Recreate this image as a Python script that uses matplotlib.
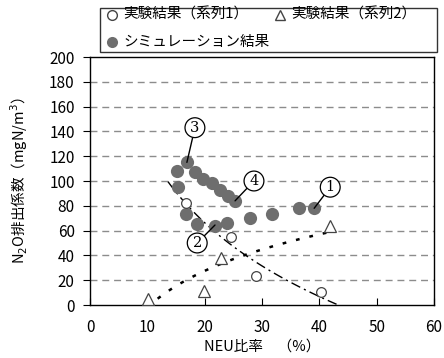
import numpy as np
import matplotlib
matplotlib.use("Agg")
import matplotlib.pyplot as plt
from matplotlib.lines import Line2D
from matplotlib.patches import Rectangle

plt.rcParams['font.family'] = ['Noto Sans CJK JP', 'DejaVu Sans']

# simulation results
sim_x = [15.2, 16.9, 18.3, 19.7, 21.3, 22.7, 24.1, 25.3, 15.4, 16.8, 18.7, 21.8, 23.9, 27.9, 31.8, 36.5, 39.1]
sim_y = [108, 115, 107, 102, 98, 93, 88, 84, 95, 73, 65, 64, 66, 70, 73, 78, 78]
# experiment series 1 (open circles)
s1_x = [16.8, 24.6, 29.0, 40.3]
s1_y = [82, 55, 23, 10.5]
# experiment series 2 (triangles)
s2_x = [10.1, 19.9, 22.9, 41.9]
s2_y = [5, 11, 38, 64]

# circled case labels: text, label position, point
case_labels = ['1', '2', '3', '4']
case_pos = [(41.9, 95), (18.7, 50), (18.3, 143), (28.6, 100)]
case_pt = [(39.1, 78), (21.8, 64.5), (16.9, 115), (25.3, 84)]

W, H = 444, 358
fig = plt.figure(figsize=(W / 100, H / 100), dpi=100)
ax = fig.add_axes([90 / W, 1 - 305 / H, 344 / W, 248 / H])

ax.set_xlim(0, 60)
ax.set_ylim(0, 200)
ax.set_xticks(np.arange(0, 61, 10))
ax.set_yticks(np.arange(0, 201, 20))
for g in range(20, 200, 20):
    ax.axhline(g, color='#8c8c8c', lw=1.0, ls=(0, (5, 3.5)), zorder=0)

# log trend lines fitted to the experiment series
b1, a1 = np.polyfit(np.log(s1_x), s1_y, 1)
xx1 = np.linspace(13.6, 43.0, 100)
ax.plot(xx1, a1 + b1 * np.log(xx1), color='black', lw=1.0, ls=(0, (7, 3, 1.5, 3)), zorder=1)
b2, a2 = np.polyfit(np.log(s2_x), s2_y, 1)
xx2 = np.linspace(11.8, 41.5, 100)
ax.plot(xx2, a2 + b2 * np.log(xx2), color='black', lw=1.8, ls=(0, (1.5, 4)), zorder=1)

ax.plot(sim_x, sim_y, 'o', color='#6e6e6e', ms=9.5, mec='none', zorder=2)
ax.plot(s1_x, s1_y, 'o', mfc='white', mec='#444444', ms=7, mew=0.9, zorder=3)
ax.plot(s2_x, s2_y, '^', mfc='white', mec='#444444', ms=8.5, mew=0.9, zorder=3)

for t, p, q in zip(case_labels, case_pos, case_pt):
    ax.annotate(t, xy=q, xytext=p, ha='center', va='center', fontsize=10.5,
                family='DejaVu Serif',
                bbox=dict(boxstyle='circle,pad=0.2', fc='white', ec='black', lw=0.9),
                arrowprops=dict(arrowstyle='-', color='black', lw=1.0, shrinkA=0, shrinkB=0),
                zorder=4)

ax.tick_params(axis='x', direction='in', length=5, pad=10, labelsize=11)
ax.tick_params(axis='y', direction='out', length=5, pad=6, labelsize=11)
for s in ax.spines.values():
    s.set_linewidth(1.0)

ax.set_xlabel('NEU比率　（%）', fontsize=10.5, labelpad=3)
ax.set_ylabel('N$_2$O排出係数（mgN/m$^3$）', fontsize=10.5, labelpad=14)

# legend box drawn by hand above the axes
fig.add_artist(Rectangle((100 / W, 1 - 52 / H), 337 / W, 44 / H, transform=fig.transFigure,
                         fc='white', ec='#333333', lw=1.0))
leg_items = [
    ('実験結果（系列1）', 112, 15, dict(marker='o', mfc='white', mec='#444444', ms=7)),
    ('実験結果（系列2）', 280, 15, dict(marker='^', mfc='white', mec='#444444', ms=7.5)),
    ('シミュレーション結果', 112, 42, dict(marker='o', mfc='#6e6e6e', mec='none', ms=8)),
]
for txt, px, py, mk in leg_items:
    fig.add_artist(Line2D([px / W], [1 - py / H], ls='none', transform=fig.transFigure, **mk))
    fig.text((px + 11) / W, 1 - py / H, txt, fontsize=10.5, ha='left', va='center')

fig.savefig('out.png', dpi=100)
